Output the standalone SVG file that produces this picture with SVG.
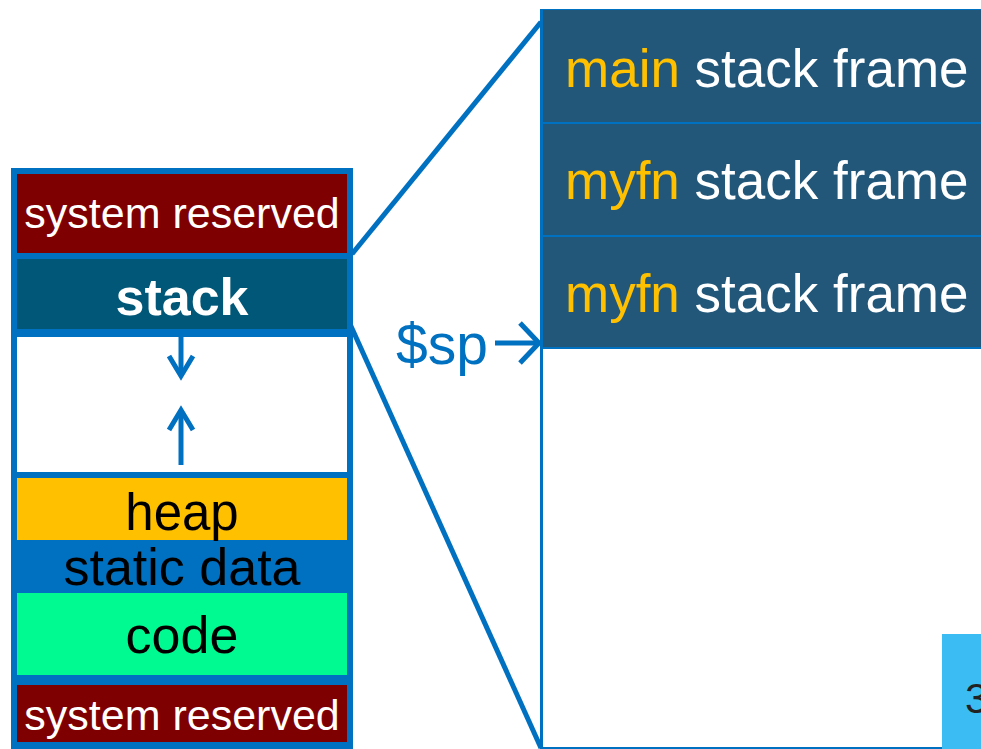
<svg xmlns="http://www.w3.org/2000/svg" width="981" height="749" viewBox="0 0 981 749">
  <style>
    text { font-family: "Liberation Sans", Arial, sans-serif; }
    .seg { text-anchor: middle; }
    .white { fill: #ffffff; }
    .black { fill: #000000; }
    .gold { fill: #FFC000; }
    .frame { fill: #22577A; }
    .line { stroke: #0070C0; fill: none; }
  </style>

  <rect width="981" height="749" fill="#ffffff"/>

  <!-- memory layout column -->
  <g id="memory">
    <rect x="11" y="168" width="342" height="581" fill="#0070C0"/>
    <g id="sysres-top">
      <rect x="17" y="174" width="330" height="79" fill="#7F0000"/>
      <text class="seg white" x="182" y="228" font-size="43">system reserved</text>
    </g>
    <g id="stack">
      <rect x="17" y="259" width="330" height="70" fill="#005777"/>
      <text class="seg white" x="182" y="315" font-size="52" font-weight="bold">stack</text>
    </g>
    <g id="free">
      <rect x="17" y="337" width="330" height="135" fill="#ffffff"/>
    </g>
    <g id="heap">
      <rect x="17" y="478" width="330" height="62" fill="#FFC000"/>
      <text class="seg black" x="182" y="530" font-size="51">heap</text>
    </g>
    <g id="static-data">
      <text class="seg black" x="182" y="585" font-size="52">static data</text>
    </g>
    <g id="code">
      <rect x="17" y="593" width="330" height="82" fill="#00FA92"/>
      <text class="seg black" x="182" y="653" font-size="52">code</text>
    </g>
    <g id="sysres-bottom">
      <rect x="17" y="685" width="330" height="57" fill="#7F0000"/>
      <text class="seg white" x="182" y="730" font-size="43">system reserved</text>
    </g>
  </g>

  <!-- zoomed stack view -->
  <g id="stack-detail">
    <rect x="541" y="10" width="450" height="738" fill="#ffffff" stroke="#0070C0" stroke-width="2"/>
    <g id="frame-main">
      <rect x="541" y="10" width="450" height="113" class="frame"/>
      <text x="565" y="87" font-size="53"><tspan class="gold">main</tspan><tspan class="white"> stack frame</tspan></text>
    </g>
    <g id="frame-myfn-1">
      <rect x="541" y="123" width="450" height="113" class="frame"/>
      <text x="565" y="199" font-size="53"><tspan class="gold">myfn</tspan><tspan class="white"> stack frame</tspan></text>
    </g>
    <g id="frame-myfn-2">
      <rect x="541" y="236" width="450" height="112" class="frame"/>
      <text x="565" y="312" font-size="53"><tspan class="gold">myfn</tspan><tspan class="white"> stack frame</tspan></text>
    </g>
    <line class="line" x1="541" y1="123" x2="981" y2="123" stroke-width="2"/>
    <line class="line" x1="541" y1="236" x2="981" y2="236" stroke-width="2"/>
    <line class="line" x1="541" y1="348" x2="981" y2="348" stroke-width="2"/>
    <line class="line" x1="542" y1="10" x2="542" y2="748" stroke-width="2"/>
  </g>

  <!-- page number tab -->
  <g id="page-tab">
    <rect x="942" y="634" width="39" height="115" fill="#3BBCF2"/>
    <text x="965" y="713" font-size="42" fill="#222222">3</text>
  </g>

  <!-- stack pointer label -->
  <g id="sp">
    <text x="396" y="364" font-size="57" fill="#0070C0">$sp</text>
  </g>

  <!-- connectors -->
  <g id="connectors" class="line" stroke-width="5" stroke-linejoin="miter">
    <line x1="352" y1="254" x2="541" y2="22"/>
    <line x1="350" y1="324" x2="541" y2="748"/>
    <line x1="495" y1="343" x2="538" y2="343"/>
    <polyline points="520,323 539,343 520,363"/>
    <line x1="181" y1="337" x2="181" y2="375"/>
    <polyline points="169,356 181,376 193,356"/>
    <line x1="181" y1="465" x2="181" y2="410"/>
    <polyline points="169,430 181,410 193,430"/>
  </g>
</svg>
